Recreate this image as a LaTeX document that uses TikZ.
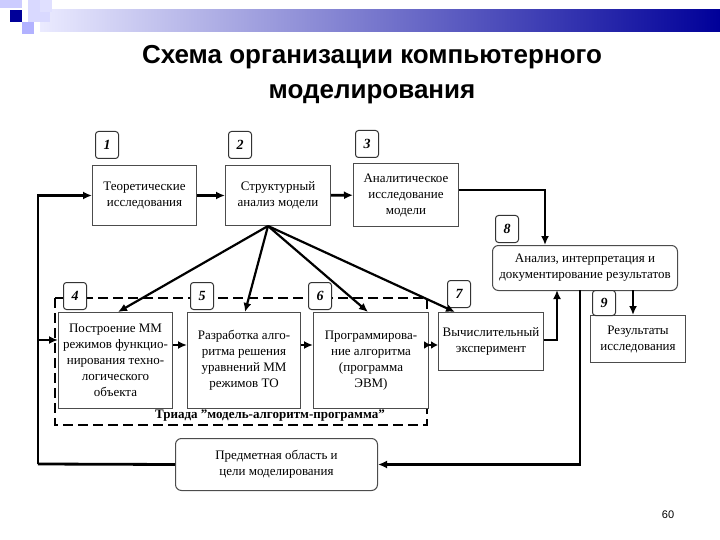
\documentclass[tikz,border=0pt]{standalone}
\usepackage{fontspec}
\setmainfont{Liberation Serif}
\newfontfamily\titlefont{Liberation Sans}
\usetikzlibrary{arrows.meta}
\begin{document}
\begin{tikzpicture}[x=1pt,y=-1pt,
  box/.style={draw=black!70,line width=1pt,fill=white,align=center,inner sep=1pt,font=\fontsize{13}{16}\selectfont,anchor=north west},
  rbox/.style={box,rounded corners=6pt},
  num/.style={draw=black!80,fill=white,rounded corners=3pt,line width=1pt,minimum width=23pt,minimum height=27pt,inner sep=0pt,font=\itshape\bfseries\fontsize{14}{16}\selectfont,anchor=north west},
  arr/.style={line width=2.8pt,-{Latex[length=9pt,width=8pt]}},
  ln/.style={line width=2.8pt}]
\useasboundingbox (0,0) rectangle (720,540);
% decoration
\shade[left color=blue!8,right color=blue!60!black] (40,10) rectangle (720,32);
\fill[blue!20!white] (0,0) rectangle (22,8);
\fill[blue!15!white] (28,0) rectangle (50,22);
\fill[blue!60!black] (10,10) rectangle (22,22);
\fill[blue!30!white] (22,22) rectangle (34,34);
\fill[blue!12!white] (40,0) rectangle (52,12);
\node[font=\titlefont\bfseries\fontsize{26}{38}\selectfont,align=center] (title) at (372,75) {Схема организации компьютерного\\[-3pt]моделирования};
% dashed triad box
\draw[line width=2.6pt,dash pattern=on 10pt off 5pt] (55,298) rectangle (427,425);
% boxes
\node[box,minimum width=104pt,minimum height=60pt] (b1) at (92,165) {Теоретические\\исследования};
\node[box,minimum width=105pt,minimum height=60pt] (b2) at (225,165) {Структурный\\анализ модели};
\node[box,minimum width=105pt,minimum height=63pt] (b3) at (353,163) {Аналитическое\\исследование\\модели};
\node[rbox,minimum width=185pt,minimum height=45pt] (b8) at (492,245) {Анализ, интерпретация и\\документирование результатов};
\node[box,minimum width=95pt,minimum height=47pt] (b9) at (590,315) {Результаты\\исследования};
\node[box,minimum width=105pt,minimum height=58pt] (b7) at (438,312) {Вычислительный\\эксперимент};
\node[box,minimum width=114pt,minimum height=96pt] (b4) at (58,312) {Построение ММ\\режимов функцио-\\нирования техно-\\логического\\объекта};
\node[box,minimum width=113pt,minimum height=96pt] (b5) at (187,312) {Разработка алго-\\ритма решения\\уравнений ММ\\режимов ТО};
\node[box,minimum width=115pt,minimum height=96pt] (b6) at (313,312) {Программирова-\\ние алгоритма\\(программа\\ЭВМ)};
\node[rbox,minimum width=202pt,minimum height=52pt] (b10) at (175,438) {Предметная область и\\цели моделирования};
% numbers
\node[num] (n1) at (95,131) {1};
\node[num] (n2) at (228,131) {2};
\node[num] (n3) at (355,130) {3};
\node[num] (n8) at (495,215) {8};
\node[num] (n7) at (447,280) {7};
\node[num,minimum height=25pt] (n9) at (592,290) {9};
\node[num] (n4) at (63,282) {4};
\node[num] (n5) at (190,282) {5};
\node[num] (n6) at (308,282) {6};
\node[font=\bfseries\fontsize{13}{15}\selectfont,inner sep=0pt] (triad) at (270,416) {Триада "модель-алгоритм-программа"};
% arrows
\draw[arr] (b1) -- (b2);
\draw[arr] (b2) -- (b3);
\coordinate (s) at (268,226);
\draw[arr,line width=2.2pt] (s) -- (118,312);
\draw[arr,line width=2.2pt] (s) -- (245,312);
\draw[arr,line width=2.2pt] (s) -- (368,312);
\draw[arr,line width=2.2pt] (s) -- (455,312);
\draw[arr] (b4.east |- 0,345) -- (b5.west |- 0,345);
\draw[arr] (b5.east |- 0,345) -- (b6.west |- 0,345);
\draw[arr,-{Latex[length=7pt,width=8pt]Latex[length=7pt,width=8pt]}] (b6.east |- 0,345) -- (b7.west |- 0,345);
\draw[arr] (b3.east |- 0,190) -| (545,245);
\draw[arr] (b7.east |- 0,340) -| (557,290);
\draw[arr] (633,290) -- (b9.north -| 633,0);
\coordinate (c1) at (38,464);
\draw[arr] (580,290) |- (b10.east);
\draw[ln] (b10.west) -- (c1);
\draw[arr] (c1) |- (b1.west);
\draw[arr] (38,340) -- (b4.west |- 0,340);
\node[font=\titlefont\fontsize{11}{13}\selectfont] (pg) at (668,515) {60};
\end{tikzpicture}
\end{document}
